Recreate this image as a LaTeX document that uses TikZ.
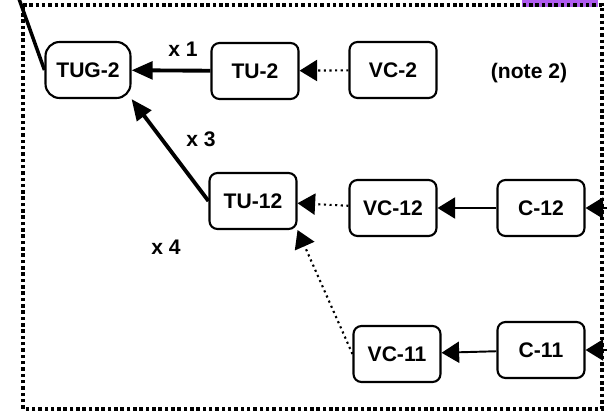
\documentclass[tikz,border=0pt]{standalone}
\usepackage{fontspec}
\setmainfont{Liberation Sans}
\usepackage{tikz}
\usetikzlibrary{positioning,arrows.meta}

\definecolor{notepurple}{HTML}{B05CF0}

\begin{document}
\begin{tikzpicture}[x=0.02cm,y=-0.02cm,
    unit/.style={draw, line width=1.2pt, rounded corners=4.5pt, minimum width=1.74cm, minimum height=1.12cm, font=\bfseries\fontsize{12}{14}\selectfont, inner sep=0pt},
    group/.style={unit, rounded corners=8pt, minimum width=1.7cm},
    lbl/.style={font=\bfseries\fontsize{12}{14}\selectfont},
    bigtip/.style={-{Triangle[length=10pt,width=12pt]}},
    mux/.style={-{Triangle[length=12pt,width=10pt]}, line width=2.2pt},
    feed/.style={bigtip, line width=1.1pt},
    map/.style={bigtip, line width=1.2pt, dotted}]
  \useasboundingbox (0,0) rectangle (607,412);
  \clip (0,0) rectangle (607,412);

  % Frame: purple tab under the dotted border
  \fill[notepurple] (522,0) rectangle (598,7);
  \draw[line width=2pt, dash pattern=on 2pt off 1.6pt] (23,5) -- (602,5) -- (602,409) -- (23,409) -- cycle;

  % Units
  \node (tug2) [group] at (88,70) {TUG-2};
  \node (tu2)  [unit]  at (255,71) {TU-2};
  \node (vc2)  [unit]  at (393,70) {VC-2};
  \node (tu12) [unit]  at (253,201) {TU-12};
  \node (vc12) [unit]  at (393,208) {VC-12};
  \node (c12)  [unit]  at (541,208) {C-12};
  \node (vc11) [unit]  at (397,354) {VC-11};
  \node (c11)  [unit]  at (541,350) {C-11};

  % Labels
  \node (note2) [lbl] at (529,73) {(note 2)};
  \node (x1) [lbl] at (183,49) {x 1};
  \node (x3) [lbl] at (201,139) {x 3};
  \node (x4) [lbl] at (166,247) {x 4};

  % Loose ends beyond the frame
  \coordinate (up)  at (18,-4);
  \coordinate (in12) at (625,208);
  \coordinate (in11) at (625,350);

  % Connectors
  \draw[line width=2pt] (tug2.west) -- (up);
  \draw[mux] (tu2) -- (tug2);
  \draw[mux] (tu12.west) -- (tug2.south east);
  \draw[map] (vc2) -- (tu2);
  \draw[map] (vc12) -- (tu12);
  \draw[map] (vc11.west) -- (tu12.south east);
  \draw[feed] (c12) -- (vc12);
  \draw[feed] (c11) -- (vc11);
  \draw[feed] (in12) -- (c12);
  \draw[feed] (in11) -- (c11);
\end{tikzpicture}
\end{document}
